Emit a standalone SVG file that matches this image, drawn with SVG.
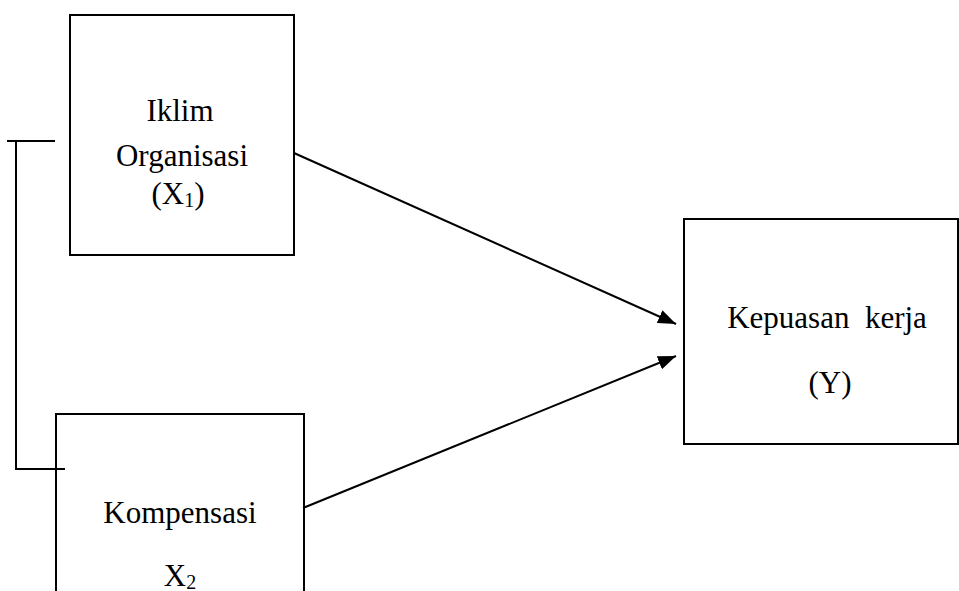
<svg xmlns="http://www.w3.org/2000/svg" width="959" height="591" viewBox="0 0 959 591">
<style>
.box{fill:#fff;stroke:#000;stroke-width:2}
.ln{fill:none;stroke:#000;stroke-width:2}
.t{font-family:"Liberation Serif","Times New Roman",serif;font-size:31px;fill:#000;text-anchor:middle}
.sub{font-size:20px}
</style>
<defs>
<marker id="ah2" viewBox="0 0 18 14" refX="18" refY="7" markerWidth="18" markerHeight="14" orient="auto" markerUnits="userSpaceOnUse">
<path d="M0,0 L18,7 L0,14 z" fill="#000"/>
</marker>
</defs>
<g id="node-x1">
<rect class="box" x="70" y="15" width="224" height="240"/>
<text class="t" x="180" y="121">Iklim</text>
<text class="t" x="182" y="166">Organisasi</text>
<text class="t" x="178" y="204">(X<tspan class="sub" dy="3">1</tspan><tspan dy="-3">)</tspan></text>
</g>
<g id="node-x2">
<rect class="box" x="56" y="414" width="248" height="200"/>
<text class="t" x="180" y="523">Kompensasi</text>
<text class="t" x="180" y="586">X<tspan class="sub" dy="3">2</tspan></text>
</g>
<g id="node-y">
<rect class="box" x="684" y="219" width="274" height="225"/>
<text class="t" x="827" y="328" xml:space="preserve">Kepuasan  kerja</text>
<text class="t" x="830" y="393">(Y)</text>
</g>
<g id="connectors">
<path class="ln" d="M7,141 H55 M16,141 V469 H65"/>
<line class="ln" x1="294" y1="153" x2="676" y2="324" marker-end="url(#ah2)"/>
<line class="ln" x1="303" y1="508" x2="676" y2="356" marker-end="url(#ah2)"/>
</g>
</svg>
